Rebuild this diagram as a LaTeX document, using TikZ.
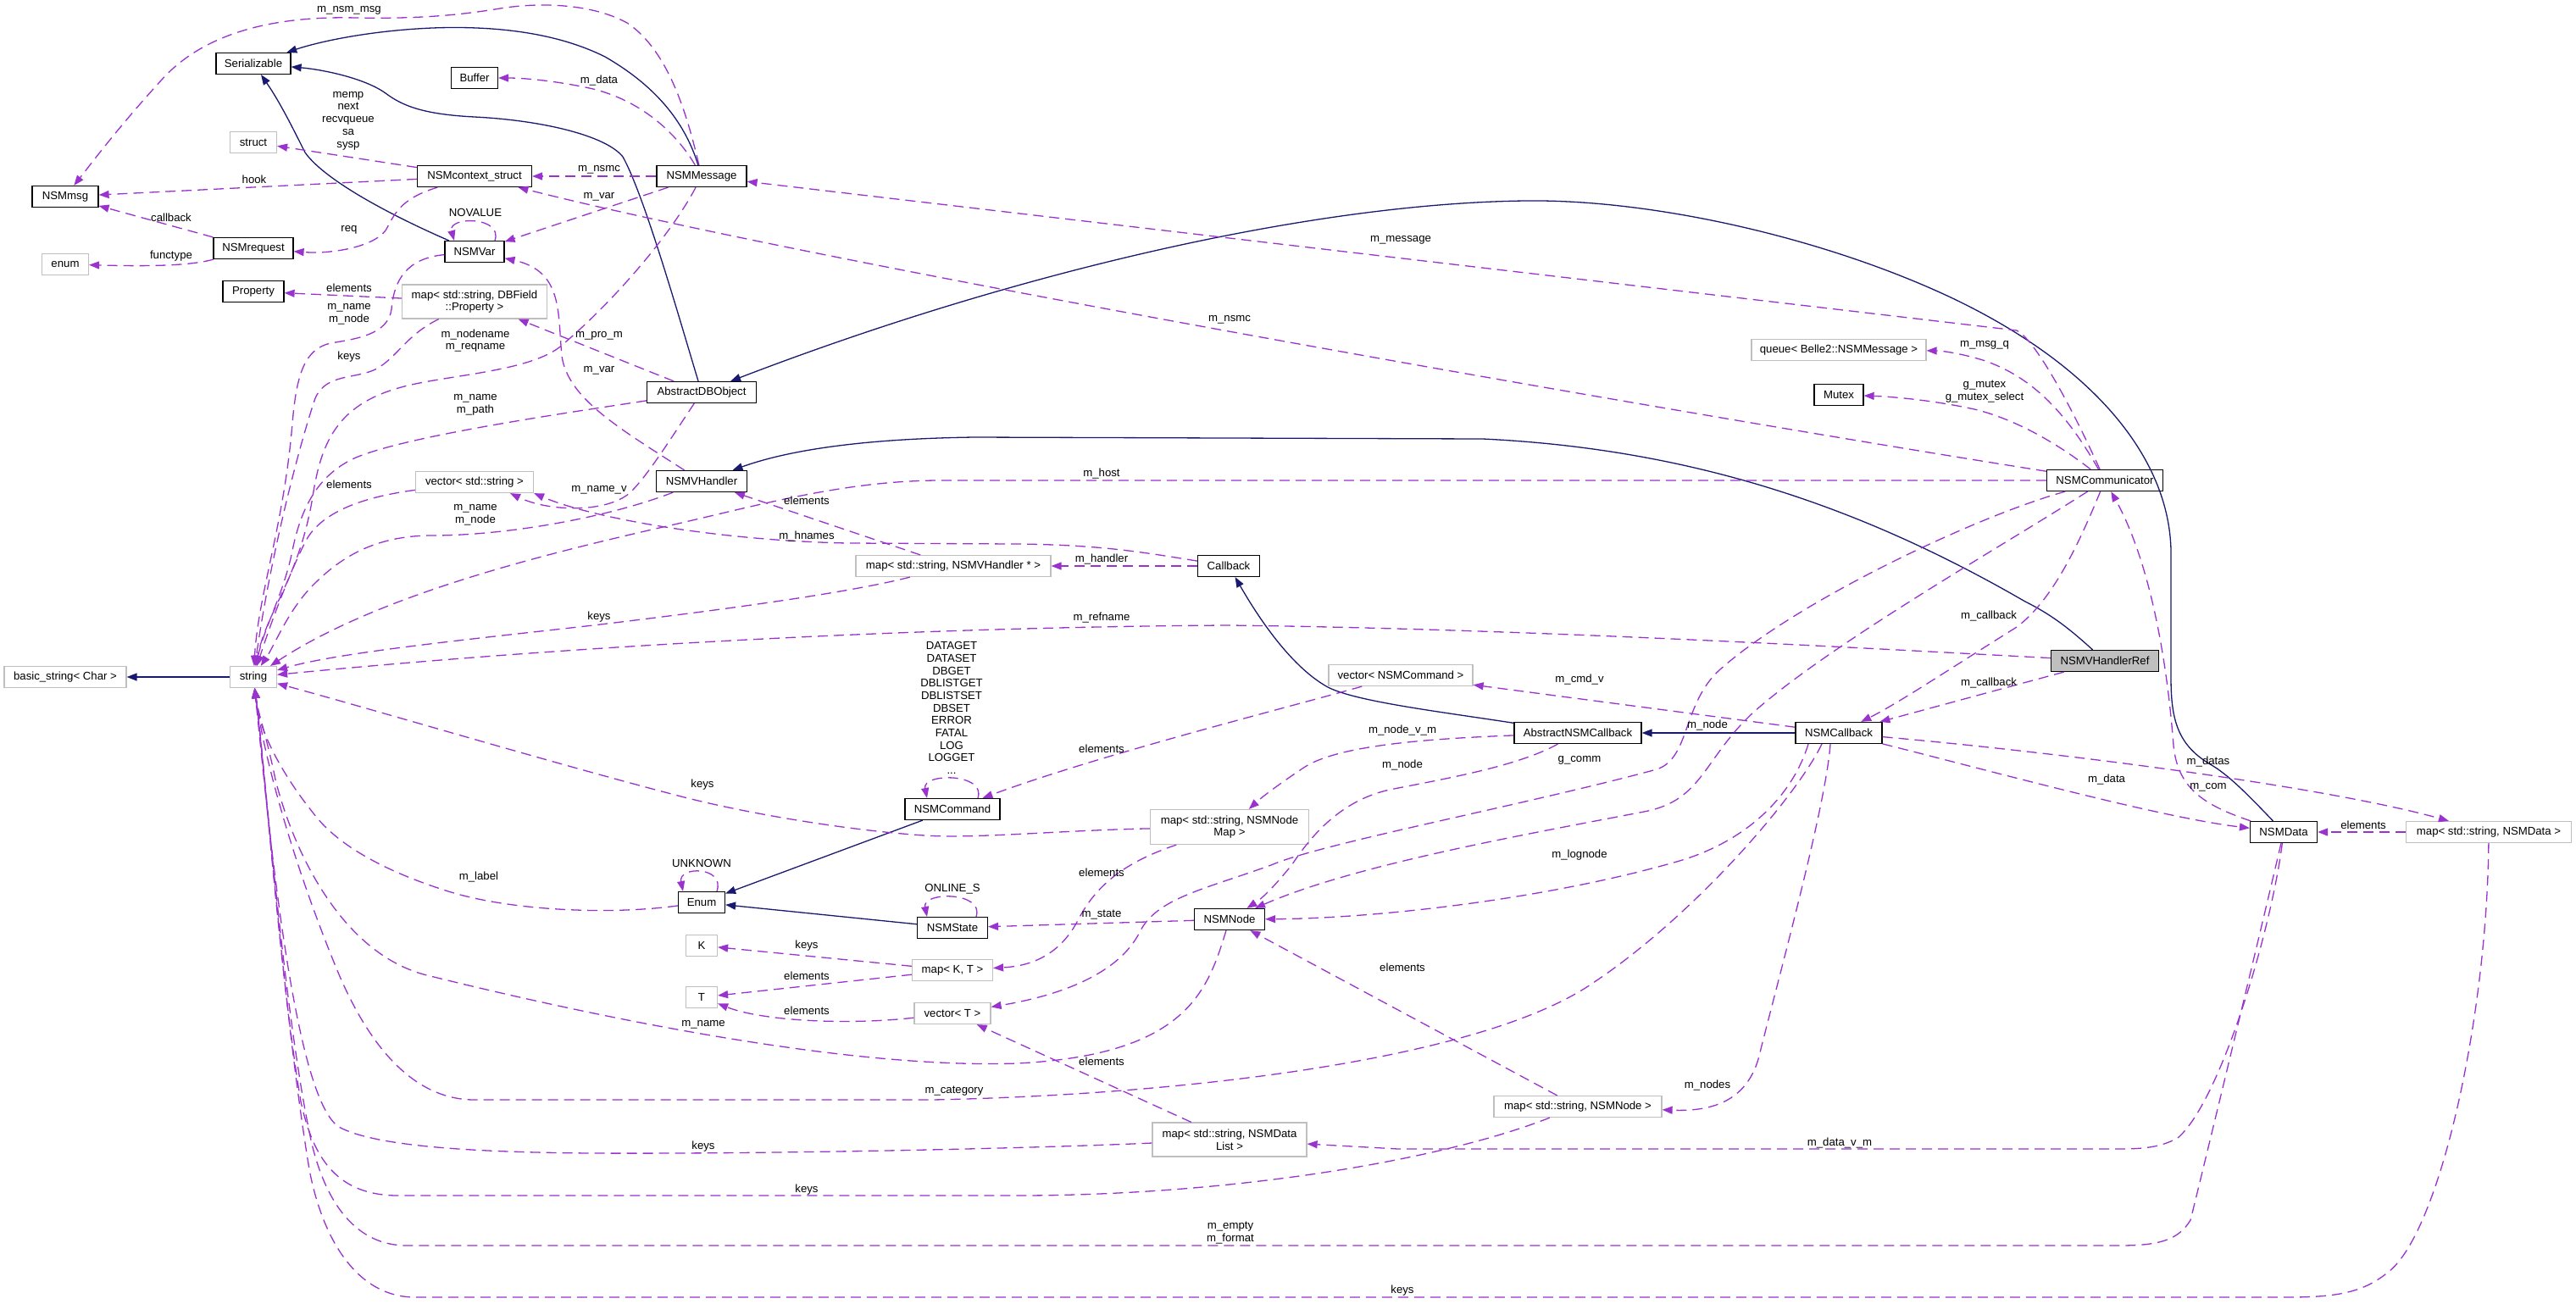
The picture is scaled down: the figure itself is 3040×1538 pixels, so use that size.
\documentclass[tikz,border=0pt]{standalone}
\usepackage{fontspec}
\newfontfamily\dfont{Liberation Sans}
\usetikzlibrary{arrows.meta}
\definecolor{navy}{HTML}{191970}
\definecolor{purp}{HTML}{9A32CD}
\definecolor{tgray}{HTML}{BFBFBF}
\tikzset{
 dtext/.style={font=\dfont\fontsize{6.6}{7.35}\selectfont},
 clsbox/.style={dtext, draw=black, line width=0.6pt, fill=white, inner xsep=0pt, inner ysep=0pt, minimum height=12.5pt, align=center},
 tplbox/.style={clsbox, draw=tgray},
 refbox/.style={clsbox, fill=tgray},
 elabel/.style={dtext, inner sep=0pt, align=center},
 inhedge/.style={draw=navy, line width=0.65pt, -{Triangle[length=6pt,width=4.5pt]}},
 useedge/.style={draw=purp, line width=0.65pt, dash pattern=on 6pt off 3.5pt, -{Triangle[length=6pt,width=4.5pt]}},
}
\begin{document}
\begin{tikzpicture}[x=0.5pt,y=-0.5pt]
\fill[white] (0,0) rectangle (3040,1538);
\useasboundingbox (0,0) rectangle (3040,1538);
% ---------------- nodes
\node[clsbox, minimum width=44pt] (Serializable) at (299,75) {Serializable};
\node[clsbox, minimum width=27.5pt] (Buffer) at (560,92) {Buffer};
\node[tplbox, minimum width=27.5pt] (struct) at (299,168) {struct};
\node[clsbox, minimum width=67.5pt] (ctx) at (560,208) {NSMcontext\_struct};
\node[clsbox, minimum width=53pt] (NSMMessage) at (828,208) {NSMMessage};
\node[clsbox, minimum width=39pt] (NSMmsg) at (77,232) {NSMmsg};
\node[clsbox, minimum width=47pt] (NSMrequest) at (299,293) {NSMrequest};
\node[tplbox, minimum width=27.5pt] (enumt) at (77,312) {enum};
\node[clsbox, minimum width=35pt] (NSMVar) at (560,297) {NSMVar};
\node[clsbox, minimum width=36pt] (Property) at (299,344) {Property};
\node[tplbox, minimum width=85.5pt, minimum height=20pt] (mapDBField) at (560,356) {map< std::string, DBField\\::Property >};
\node[clsbox, minimum width=64.5pt] (AbstractDBObject) at (828,463) {AbstractDBObject};
\node[tplbox, minimum width=69.5pt] (vecString) at (560,569) {vector< std::string >};
\node[clsbox, minimum width=53.5pt] (NSMVHandler) at (828,568) {NSMVHandler};
\node[tplbox, minimum width=115pt] (mapVH) at (1125,668) {map< std::string, NSMVHandler * >};
\node[clsbox, minimum width=36.5pt] (Callback) at (1450,668) {Callback};
\node[clsbox, minimum width=68.5pt] (NSMCommunicator) at (2484,567) {NSMCommunicator};
\node[tplbox, minimum width=103pt] (queue) at (2170,413) {queue< Belle2::NSMMessage >};
\node[clsbox, minimum width=29pt] (Mutex) at (2170,466) {Mutex};
\node[refbox, minimum width=63.5pt] (NSMVHandlerRef) at (2484,780) {NSMVHandlerRef};
\node[tplbox, minimum width=72pt] (basicstring) at (77,799) {basic\_string< Char >};
\node[tplbox, minimum width=27.5pt] (string) at (299,799) {string};
\node[tplbox, minimum width=85pt] (vecCmd) at (1653,797) {vector< NSMCommand >};
\node[clsbox, minimum width=75pt] (AbstractNSMCallback) at (1862,865) {AbstractNSMCallback};
\node[clsbox, minimum width=51pt] (NSMCallback) at (2170,865) {NSMCallback};
\node[clsbox, minimum width=56pt] (NSMCommand) at (1124,955) {NSMCommand};
\node[tplbox, minimum width=93.5pt, minimum height=20.5pt] (mapNodeMap) at (1451,976) {map< std::string, NSMNode\\Map >};
\node[clsbox, minimum width=27.5pt] (Enum) at (828,1065) {Enum};
\node[clsbox, minimum width=41.5pt] (NSMState) at (1124,1095) {NSMState};
\node[clsbox, minimum width=41.5pt] (NSMNode) at (1451,1085) {NSMNode};
\node[tplbox, minimum width=18.5pt] (K) at (828,1116) {K};
\node[tplbox, minimum width=47.5pt] (mapKT) at (1124,1145) {map< K, T >};
\node[tplbox, minimum width=18.5pt] (T) at (828,1177) {T};
\node[tplbox, minimum width=45pt] (vecT) at (1124,1196) {vector< T >};
\node[clsbox, minimum width=39.5pt] (NSMData) at (2695,982) {NSMData};
\node[tplbox, minimum width=97.5pt] (mapNSMData) at (2937,982) {map< std::string, NSMData >};
\node[tplbox, minimum width=99pt] (mapNSMNode) at (1862,1306) {map< std::string, NSMNode >};
\node[tplbox, minimum width=91pt, minimum height=20pt] (mapDataList) at (1451,1345) {map< std::string, NSMData\\List >};
% ---------------- inheritance edges
\draw[inhedge] (NSMMessage) .. controls (810,150) and (780,105) .. (714,67) .. controls (660,40) and (590,30) .. (510,33) .. controls (440,36) and (380,48) .. (Serializable);
\draw[inhedge] (AbstractDBObject) .. controls (800,370) and (760,230) .. (735,185) .. controls (715,160) and (640,142) .. (560,138) .. controls (500,135) and (475,125) .. (455,110) .. controls (430,92) and (380,82) .. (Serializable);
\draw[inhedge] (NSMVar) .. controls (470,258) and (385,215) .. (360,180) .. controls (345,150) and (330,120) .. (Serializable);
\draw[inhedge] (NSMData) .. controls (2650,935) and (2630,915) .. (2610,903) .. controls (2570,880) and (2562,850) .. (2562,800) -- (2562,650) .. controls (2560,540) and (2470,430) .. (2300,350) .. controls (2150,280) and (1950,235) .. (1800,237) .. controls (1550,240) and (1200,320) .. (AbstractDBObject);
\draw[inhedge] (NSMVHandlerRef) .. controls (2440,740) and (2420,725) .. (2390,710) .. controls (2200,600) and (2000,530) .. (1750,518) -- (1150,516) .. controls (1000,518) and (920,535) .. (NSMVHandler);
\draw[inhedge] (AbstractNSMCallback) .. controls (1700,840) and (1600,828) .. (1567,811) .. controls (1520,785) and (1480,720) .. (Callback);
\draw[inhedge] (NSMCallback) -- (AbstractNSMCallback);
\draw[inhedge] (string) -- (basicstring);
\draw[inhedge] (NSMCommand) -- (Enum);
\draw[inhedge] (NSMState) -- (Enum);
% ---------------- usage edges (upper left)
\draw[useedge] (NSMMessage) .. controls (812,140) and (790,60) .. (740,27) .. controls (700,5) and (640,2) .. (590,10) .. controls (530,20) and (480,22) .. (420,21) .. controls (300,18) and (230,50) .. (190,95) .. controls (140,150) and (110,190) .. (NSMmsg);
\draw[useedge] (ctx) -- (NSMmsg);
\draw[useedge] (NSMrequest) -- (NSMmsg);
\draw[useedge] (NSMrequest) .. controls (220,315) and (160,314) .. (enumt);
\draw[useedge] (NSMMessage) .. controls (800,160) and (760,120) .. (700,105) .. controls (660,96) and (620,92) .. (Buffer);
\draw[useedge] (ctx) -- (struct);
\draw[useedge] (NSMMessage) -- (ctx);
\draw[useedge] (ctx) .. controls (470,235) and (465,255) .. (455,272) .. controls (440,292) and (390,300) .. (NSMrequest);
\draw[useedge] ([xshift=12pt]NSMVar.north) .. controls (594,255) and (528,255) .. ([xshift=-12pt]NSMVar.north);
\draw[useedge] (NSMMessage) -- (NSMVar);
\draw[useedge] (NSMCommunicator) .. controls (2100,507) and (1000,320) .. (ctx);
\draw[useedge] (NSMCommunicator) .. controls (2440,470) and (2400,400) .. (2380,390) -- (NSMMessage);
\draw[useedge] (mapDBField) -- (Property);
\draw[useedge] (AbstractDBObject) -- (mapDBField);
\draw[useedge] (NSMVHandler) .. controls (730,505) and (670,470) .. (663,420) .. controls (658,370) and (665,320) .. (NSMVar);
% ---------------- to string (top)
\draw[useedge] (NSMVar) .. controls (480,305) and (465,330) .. (462,365) .. controls (458,395) and (420,400) .. (390,405) .. controls (360,412) and (350,440) .. (345,500) .. controls (335,620) and (305,700) .. (string);
\draw[useedge] (mapDBField) .. controls (480,395) and (470,420) .. (445,435) .. controls (420,448) and (385,440) .. (372,470) .. controls (355,520) and (320,650) .. (string);
\draw[useedge] (NSMMessage) .. controls (790,280) and (720,360) .. (660,410) .. controls (620,440) and (520,443) .. (470,458) .. controls (400,478) and (380,520) .. (370,580) .. controls (355,680) and (315,720) .. (string);
\draw[useedge] (AbstractDBObject) .. controls (650,490) and (480,515) .. (420,540) .. controls (375,560) and (355,600) .. (345,650) .. controls (335,700) and (312,740) .. (string);
\draw[useedge] (vecString) .. controls (440,585) and (380,600) .. (360,640) .. controls (340,680) and (318,740) .. (string);
\draw[useedge] (NSMVHandler) .. controls (720,610) and (600,632) .. (510,632) .. controls (440,632) and (400,660) .. (370,690) .. controls (340,720) and (325,760) .. (string);
\draw[useedge] (NSMCommunicator) -- (1110,567) .. controls (1000,567) and (900,595) .. (800,618) .. controls (650,652) and (450,700) .. (string);
\draw[useedge] (mapVH) .. controls (1000,700) and (850,720) .. (700,738) .. controls (550,755) and (400,770) .. (string);
\draw[useedge] (NSMVHandlerRef) .. controls (2200,765) and (1800,742) .. (1450,738) .. controls (1100,740) and (700,760) .. (string);
\draw[useedge] (mapNodeMap) .. controls (1250,980) and (1150,990) .. (1091,986) .. controls (1000,980) and (880,960) .. (800,939) .. controls (650,900) and (450,840) .. (string);
% ---------------- to string (bottom)
\draw[useedge] (Enum) .. controls (720,1080) and (600,1075) .. (526,1051) .. controls (460,1030) and (400,1000) .. (370,960) .. controls (330,910) and (305,860) .. (string);
\draw[useedge] (NSMNode) .. controls (1425,1170) and (1400,1245) .. (1200,1255) .. controls (1000,1262) and (700,1200) .. (500,1150) .. controls (400,1122) and (345,1000) .. (325,920) .. controls (315,870) and (304,840) .. (string);
\draw[useedge] ([xshift=-10pt]NSMCallback.south) .. controls (2120,940) and (2000,1080) .. (1880,1160) .. controls (1750,1250) and (1400,1292) .. (1100,1298) -- (560,1298) .. controls (480,1298) and (430,1220) .. (400,1150) .. controls (350,1030) and (312,900) .. (string);
\draw[useedge] (mapDataList) .. controls (1200,1356) and (900,1362) .. (700,1361) .. controls (550,1360) and (440,1352) .. (400,1330) .. controls (345,1295) and (315,950) .. (string);
\draw[useedge] (mapNSMNode) .. controls (1700,1370) and (1450,1411) .. (1200,1411) -- (470,1411) .. controls (400,1411) and (370,1370) .. (355,1300) .. controls (330,1150) and (312,900) .. (string);
\draw[useedge] (NSMData) .. controls (2670,1090) and (2600,1380) .. (2585,1440) .. controls (2570,1465) and (2545,1470) .. (2500,1470) -- (480,1470) .. controls (420,1470) and (385,1420) .. (368,1350) .. controls (335,1200) and (312,900) .. (string);
\draw[useedge] (mapNSMData) .. controls (2935,1200) and (2880,1450) .. (2820,1500) .. controls (2790,1525) and (2760,1531) .. (2700,1531) -- (490,1531) .. controls (420,1531) and (380,1460) .. (365,1380) .. controls (335,1200) and (312,900) .. (string);
% ---------------- middle
\draw[useedge] (AbstractDBObject) .. controls (790,520) and (765,560) .. (745,580) .. controls (720,605) and (650,605) .. ([xshift=21pt]vecString.south);
\draw[useedge] (Callback) .. controls (1350,652) and (1300,643) .. (1200,642) -- (1000,641) .. controls (850,638) and (700,612) .. (vecString.south east);
\draw[useedge] (mapVH) -- (NSMVHandler);
\draw[useedge] (Callback) -- (mapVH);
\draw[useedge] ([xshift=15pt]NSMCommand.north) .. controls (1164,912) and (1088,912) .. ([xshift=-15pt]NSMCommand.north);
\draw[useedge] (vecCmd) .. controls (1520,835) and (1300,890) .. (NSMCommand);
\draw[useedge] (NSMCallback) -- (vecCmd);
\draw[useedge] (AbstractNSMCallback) .. controls (1680,872) and (1580,880) .. (1540,905) .. controls (1510,925) and (1490,940) .. (mapNodeMap);
\draw[useedge] (AbstractNSMCallback) .. controls (1790,905) and (1700,920) .. (1640,932) .. controls (1580,945) and (1545,990) .. (1525,1020) .. controls (1505,1045) and (1490,1060) .. (NSMNode);
\draw[useedge] (NSMCommunicator) .. controls (2330,610) and (2120,710) .. (2030,790) .. controls (1985,830) and (1995,895) .. (1955,908) .. controls (1800,950) and (1560,995) .. (1500,1021) .. controls (1420,1050) and (1365,1060) .. (1345,1100) .. controls (1320,1150) and (1250,1175) .. (vecT);
\draw[useedge] (NSMCommunicator) .. controls (2370,640) and (2160,760) .. (2070,840) .. controls (2010,895) and (2010,945) .. (1940,958) .. controls (1800,985) and (1600,1020) .. (NSMNode);
\draw[useedge] ([xshift=-18pt]NSMCallback.south) .. controls (2115,940) and (2060,995) .. (1975,1018) .. controls (1820,1062) and (1620,1084) .. (NSMNode);
\draw[useedge] ([xshift=-5pt]NSMCallback.south) .. controls (2155,950) and (2100,1150) .. (2075,1250) .. controls (2060,1300) and (2020,1312) .. (mapNSMNode);
\draw[useedge] (mapNSMNode) -- (NSMNode);
\draw[useedge] (mapDataList) -- (vecT);
\draw[useedge] (mapNodeMap) .. controls (1320,1020) and (1290,1050) .. (1270,1090) .. controls (1250,1125) and (1220,1140) .. (mapKT);
\draw[useedge] (NSMNode) -- (NSMState);
\draw[useedge] (mapKT) -- (K);
\draw[useedge] (mapKT) -- (T);
\draw[useedge] (vecT) .. controls (1000,1210) and (900,1205) .. (T);
\draw[useedge] ([xshift=9pt]Enum.north) .. controls (856,1022) and (800,1022) .. ([xshift=-11pt]Enum.north);
\draw[useedge] ([xshift=14pt]NSMState.north) .. controls (1162,1052) and (1088,1052) .. ([xshift=-15pt]NSMState.north);
% ---------------- right side
\draw[useedge] (NSMCommunicator) .. controls (2440,490) and (2400,445) .. (2340,425) .. controls (2310,416) and (2290,414) .. (queue);
\draw[useedge] (NSMCommunicator) .. controls (2430,525) and (2380,495) .. (2330,483) .. controls (2280,472) and (2230,468) .. (Mutex);
\draw[useedge] (NSMCommunicator) .. controls (2450,650) and (2420,710) .. (2380,740) .. controls (2300,790) and (2240,830) .. (NSMCallback);
\draw[useedge] (NSMVHandlerRef) -- (NSMCallback);
\draw[useedge] (NSMData) .. controls (2600,950) and (2570,930) .. (2565,880) .. controls (2555,750) and (2530,650) .. (NSMCommunicator);
\draw[useedge] (NSMCallback) .. controls (2350,910) and (2550,965) .. (NSMData);
\draw[useedge] (NSMCallback) .. controls (2450,890) and (2750,930) .. (mapNSMData);
\draw[useedge] (mapNSMData) -- (NSMData);
\draw[useedge] (NSMData) .. controls (2680,1100) and (2620,1300) .. (2570,1343) .. controls (2550,1354) and (2530,1356) .. (2500,1356) -- (1650,1356) -- (mapDataList);
% ---------------- labels
\node[elabel] (l1) at (412,12) {m\_nsm\_msg};
\node[elabel] (l2) at (707,95) {m\_data};
\node[elabel] (l3) at (411,142.5) {memp\\next\\recvqueue\\sa\\sysp};
\node[elabel] (l4) at (300,212) {hook};
\node[elabel] (l5) at (707,200) {m\_nsmc};
\node[elabel] (l6) at (707,232) {m\_var};
\node[elabel] (l7) at (561,251) {NOVALUE};
\node[elabel] (l8) at (202,257) {callback};
\node[elabel] (l9) at (412,271) {req};
\node[elabel] (l10) at (202,302) {functype};
\node[elabel] (l11) at (412,340) {elements};
\node[elabel] (l12) at (412,371) {m\_name\\m\_node};
\node[elabel] (l13) at (561,402) {m\_nodename\\m\_reqname};
\node[elabel] (l14) at (412,421) {keys};
\node[elabel] (l15) at (707,396) {m\_pro\_m};
\node[elabel] (l16) at (707,437) {m\_var};
\node[elabel] (l17) at (561,478) {m\_name\\m\_path};
\node[elabel] (l18) at (412,572) {elements};
\node[elabel] (l19) at (707,578) {m\_name\_v};
\node[elabel] (l20) at (561,608) {m\_name\\m\_node};
\node[elabel] (l21) at (707,728) {keys};
\node[elabel] (l22) at (1300,559) {m\_host};
\node[elabel] (l23) at (952,591) {elements};
\node[elabel] (l24) at (952,633) {m\_hnames};
\node[elabel] (l25) at (1300,660) {m\_handler};
\node[elabel] (l26) at (1300,729) {m\_refname};
\node[elabel] (l27) at (1300,884) {elements};
\node[elabel] (l28) at (829,926) {keys};
\node[elabel] (l29) at (1451,377) {m\_nsmc};
\node[elabel] (l30) at (1653,283) {m\_message};
\node[elabel] (l31) at (2342,407) {m\_msg\_q};
\node[elabel] (l32) at (2342,462) {g\_mutex\\g\_mutex\_select};
\node[elabel] (l33) at (1864,802) {m\_cmd\_v};
\node[elabel] (l34) at (2015,856) {m\_node};
\node[elabel] (l35) at (1655,862) {m\_node\_v\_m};
\node[elabel] (l36) at (1864,897) {g\_comm};
\node[elabel] (l37) at (1655,903) {m\_node};
\node[elabel] (l38) at (1864,1009) {m\_lognode};
\node[elabel] (l39) at (2347,727) {m\_callback};
\node[elabel] (l40) at (2347,806) {m\_callback};
\node[elabel] (l41) at (2606,899) {m\_datas};
\node[elabel] (l42) at (2486,920) {m\_data};
\node[elabel] (l43) at (2606,929) {m\_com};
\node[elabel] (l44) at (2789,974) {elements};
\node[elabel] (l45) at (828,1019) {UNKNOWN};
\node[elabel] (l46) at (1124,1049) {ONLINE\_S};
\node[elabel] (l47) at (565,1035) {m\_label};
\node[elabel] (l48) at (952,1116) {keys};
\node[elabel] (l49) at (952,1152) {elements};
\node[elabel] (l50) at (952,1193) {elements};
\node[elabel] (l51) at (830,1209) {m\_name};
\node[elabel] (l52) at (1300,1030) {elements};
\node[elabel] (l53) at (1300,1080) {m\_state};
\node[elabel] (l54) at (1300,1253) {elements};
\node[elabel] (l55) at (1126,1288) {m\_category};
\node[elabel] (l56) at (830,1353) {keys};
\node[elabel] (l57) at (952,1404) {keys};
\node[elabel] (l58) at (1452,1455) {m\_empty\\m\_format};
\node[elabel] (l59) at (1655,1142) {elements};
\node[elabel] (l60) at (2015,1281) {m\_nodes};
\node[elabel] (l61) at (2171,1349) {m\_data\_v\_m};
\node[elabel] (l62) at (1655,1523) {keys};
\node[elabel] (l63) at (1123,835.5) {DATAGET\\DATASET\\DBGET\\DBLISTGET\\DBLISTSET\\DBSET\\ERROR\\FATAL\\LOG\\LOGGET\\...};
\end{tikzpicture}
\end{document}
